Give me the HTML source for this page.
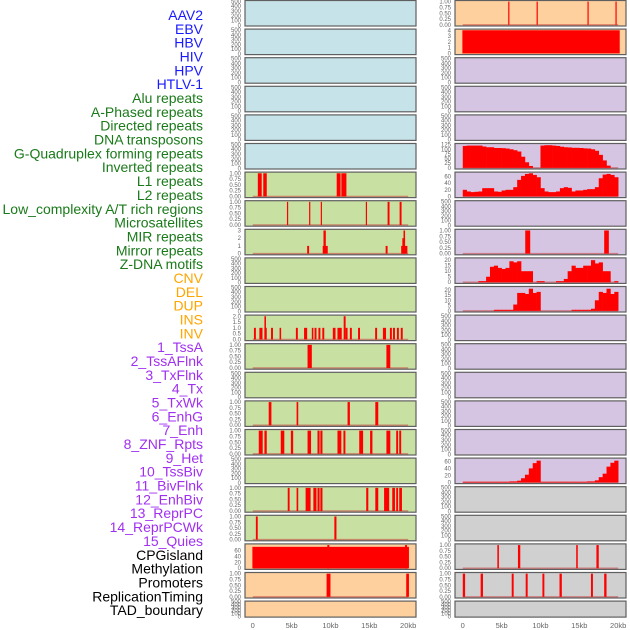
<!DOCTYPE html>
<html><head><meta charset="utf-8"><style>
body{margin:0;background:#fff;width:630px;height:630px;overflow:hidden}
svg{display:block}
</style></head><body>
<svg id="chart" width="630" height="630" xmlns="http://www.w3.org/2000/svg" font-family="Liberation Sans, sans-serif"></svg>
<script>
// ---- data ----
const trackLabels=["AAV2","EBV","HBV","HIV","HPV","HTLV-1","Alu repeats","A-Phased repeats","Directed repeats","DNA transposons","G-Quadruplex forming repeats","Inverted repeats","L1 repeats","L2 repeats","Low_complexity A/T rich regions","Microsatellites","MIR repeats","Mirror repeats","Z-DNA motifs","CNV","DEL","DUP","INS","INV","1_TssA","2_TssAFlnk","3_TxFlnk","4_Tx","5_TxWk","6_EnhG","7_Enh","8_ZNF_Rpts","9_Het","10_TssBiv","11_BivFlnk","12_EnhBiv","13_ReprPC","14_ReprPCWk","15_Quies","CPGisland","Methylation","Promoters","ReplicationTiming","TAD_boundary"];
const xTickLabels=["0","5kb","10kb","15kb","20kb"];
const xTickValues=[0,5,10,15,20];
// spike tracks: [startKb,endKb,value]
const aluSpikes=[[0.65,1.15,1],[1.35,1.8,1],[10.8,11.3,1],[11.4,12.05,1]];
const aPhasedSpikes=[[4.4,4.55,1],[7.25,7.4,1],[8.75,8.9,1],[14.55,14.7,1],[17.35,17.6,1],[18.9,19.15,1]];
const directedSpikes=[[7.0,7.25,1],[9.0,9.65,1],[9.1,9.4,3],[17.1,17.35,1],[19.1,19.9,1],[19.25,19.6,2],[19.4,19.6,3]];
const invertedSpikes=[[0.15,0.4,1],[0.85,1.25,1],[1.5,1.8,1],[1.5,1.7,2],[2.35,2.6,1],[3.45,3.65,1],[5.55,5.8,1],[6.6,7.0,1],[7.6,7.8,1],[7.95,8.2,1],[8.45,8.7,1],[8.95,9.2,1],[10.3,10.65,1],[10.9,11.45,1],[11.7,11.95,2],[11.95,12.2,1],[12.5,12.75,1],[13.55,13.8,1],[15.75,16.0,1],[16.75,17.15,1],[17.65,17.9,1],[18.05,18.3,1],[18.55,18.8,1],[19.05,19.3,1]];
const l1Spikes=[[7.05,7.6,1],[17.2,17.7,1]];
const lowComplexSpikes=[[2.05,2.4,1],[5.64,5.85,1],[12.2,12.5,1],[15.77,16.15,1]];
const microSpikes=[[0.77,1.28,1],[1.5,1.8,1],[3.6,4.06,1],[4.9,5.2,1],[7.05,7.5,1],[8.33,8.6,1],[8.7,8.97,1],[10.9,11.4,1],[11.67,11.92,1],[13.7,14.2,1],[15.1,15.4,1],[17.2,17.7,1],[18.46,18.7,1],[18.85,19.1,1]];
const mirrorSpikes=[[4.5,4.74,1],[5.64,5.85,1],[6.8,7.44,1],[7.8,8.2,1],[8.33,8.6,1],[8.7,8.97,1],[14.6,14.87,1],[15.77,16.15,1],[16.9,17.56,1],[17.95,18.3,1],[18.46,18.7,1],[18.85,19.2,1]];
const zdnaSpikes=[[0.4,0.64,1],[10.5,10.77,1]];
const cnvSpikes=[[-0.05,20.1,73],[9.6,9.85,79],[19.6,19.85,79]];
const delSpikes=[[9.5,10.0,1],[19.75,20.1,1]];
const insSpikes=[[5.85,6.0,1],[9.5,9.65,1],[16.05,16.2,1],[19.65,19.8,1]];
const invSpikes=[[-0.05,20.2,4]];
const reprPCWkSpikes=[[8.04,8.68,1],[18.2,18.8,1]];
const promoterSpikes=[[4.45,4.65,1],[7.1,7.4,1],[14.6,14.8,1],[17.2,17.5,1]];
const replicationSpikes=[[0.0,0.3,1],[2.3,2.6,1],[6.3,6.55,1],[8.1,8.35,1],[10.25,10.5,1],[12.45,12.75,1],[16.5,16.75,1],[18.2,18.5,1]];
// density tracks: 40 bins of 0.5kb
const txDensity=[118,120,120,120,120,115,111,111,107,107,106,104,100,95,88,60,30,10,0,0,120,122,122,120,118,114,111,110,108,108,107,105,104,100,92,70,40,12,0,0];
const txWkDensity=[20,15,13,14,15,25,25,25,15,14,18,20,20,28,50,62,68,70,65,58,25,15,13,13,15,25,28,26,15,18,18,20,22,22,28,55,66,68,65,58];
const enhDensity=[0,0,0,0,1,1,5,14,15,13,12,13,19,18,19,10,10,10,0,1,1,0,0,0,1,1,3,10,15,13,13,15,15,20,17,18,10,10,0,1];
const znfDensity=[0,0,0,0,0,0,0,0,1,1,1,1,1,6,17,17,16,21,17,18,0,0,0,0,0,0,0,0,1,1,1,1,1,2,10,18,17,21,16,18];
const hetDensity=[2,2,2,2,2,2,2,2,2,2,2,2,3,3,5,12,22,40,55,62,2,2,2,2,2,2,2,2,2,2,2,2,3,3,6,15,25,45,56,62];
// ---- panel specs ----
const BLUE="#c6e3ea",GREEN="#c8e0a2",ORANGE="#fdd09e",PURPLE="#d5c5e2",GRAY="#d0d0d0";
const E={t:"empty"};
const S01=[0,0.25,0.5,0.75,1],S01L=["0.00","0.25","0.50","0.75","1.00"];
const leftPanels=[
 [BLUE,E],[BLUE,E],[BLUE,E],[BLUE,E],[BLUE,E],[BLUE,E],
 [GREEN,{t:"spike",d:aluSpikes,max:1,ticks:S01,tl:S01L}],
 [GREEN,{t:"spike",d:aPhasedSpikes,max:1,ticks:S01,tl:S01L}],
 [GREEN,{t:"spike",d:directedSpikes,max:3,ticks:[0,1,2,3],tl:["0","1","2","3"]}],
 [GREEN,E],[GREEN,E],
 [GREEN,{t:"spike",d:invertedSpikes,max:2,ticks:[0,0.5,1,1.5,2],tl:["0.0","0.5","1.0","1.5","2.0"]}],
 [GREEN,{t:"spike",d:l1Spikes,max:1,ticks:S01,tl:S01L}],
 [GREEN,E],
 [GREEN,{t:"spike",d:lowComplexSpikes,max:1,ticks:S01,tl:S01L}],
 [GREEN,{t:"spike",d:microSpikes,max:1,ticks:S01,tl:S01L}],
 [GREEN,E],
 [GREEN,{t:"spike",d:mirrorSpikes,max:1,ticks:S01,tl:S01L}],
 [GREEN,{t:"spike",d:zdnaSpikes,max:1,ticks:S01,tl:S01L}],
 [ORANGE,{t:"spike",d:cnvSpikes,max:79,ticks:[0,20,40,60],tl:["0","20","40","60"]}],
 [ORANGE,{t:"spike",d:delSpikes,max:1,ticks:S01,tl:S01L}],
 [ORANGE,E]
];
const rightPanels=[
 [ORANGE,{t:"spike",d:insSpikes,max:1,ticks:S01,tl:S01L}],
 [ORANGE,{t:"spike",d:invSpikes,max:4,ticks:[0,1,2,3,4],tl:["0","1","2","3","4"],nobase:true}],
 [PURPLE,E],[PURPLE,E],[PURPLE,E],
 [PURPLE,{t:"dens",d:txDensity,max:125,ticks:[0,25,50,75,100,125],tl:["0","25","50","75","100","125"]}],
 [PURPLE,{t:"dens",d:txWkDensity,max:70,ticks:[0,20,40,60],tl:["0","20","40","60"]}],
 [PURPLE,E],
 [PURPLE,{t:"spike",d:reprPCWkSpikes,max:1,ticks:S01,tl:S01L}],
 [PURPLE,{t:"dens",d:enhDensity,max:21,ticks:[0,5,10,15,20],tl:["0","5","10","15","20"]}],
 [PURPLE,{t:"dens",d:znfDensity,max:22,ticks:[0,5,10,15,20],tl:["0","5","10","15","20"]}],
 [PURPLE,E],[PURPLE,E],[PURPLE,E],[PURPLE,E],[PURPLE,E],
 [PURPLE,{t:"dens",d:hetDensity,max:66,ticks:[0,20,40,60],tl:["0","20","40","60"]}],
 [GRAY,E],[GRAY,E],
 [GRAY,{t:"spike",d:promoterSpikes,max:1,ticks:S01,tl:S01L}],
 [GRAY,{t:"spike",d:replicationSpikes,max:1,ticks:S01,tl:S01L}],
 [GRAY,E]
];
// ---- drawing ----
const NS="http://www.w3.org/2000/svg";
const svg=document.getElementById("chart");
function mk(tag,attrs,parent){const e=document.createElementNS(NS,tag);for(const k in attrs)e.setAttribute(k,attrs[k]);(parent||svg).appendChild(e);return e;}
function labelColor(i){if(i<6)return"#1a1aff";if(i<19)return"#1a7a1a";if(i<24)return"#ffa500";if(i<39)return"#a030f0";return"#000";}
trackLabels.forEach((t,i)=>{
 const e=mk("text",{x:203,y:15+i*13.84+5,"text-anchor":"end","font-size":"14",fill:labelColor(i)});
 
 
 e.textContent=t;
});
function panelGeom(row){const top=0.5+row*28.6;const h=row===21?16:25.5;return{top,h};}
function drawPanel(px0,row,spec,name){
 const [bg,cfg]=spec;const {top,h}=panelGeom(row);const W=171;
 const g=mk("g",{});
 
 
 mk("rect",{x:px0,y:top,width:W,height:h,fill:bg},g);
 const xs=kb=>px0+(kb+1)*7.77;
 let lo,hi,ticks,tl;
 if(cfg.t==="empty"){lo=-15;hi=520;ticks=[0,100,200,300,400,500];tl=ticks.map(String);}
 else{lo=-0.05*cfg.max;hi=1.05*cfg.max;ticks=cfg.ticks;tl=cfg.tl;}
 const ys=v=>top+h-(v-lo)/(hi-lo)*h;
 if(cfg.t==="spike"){
  if(!cfg.nobase)mk("line",{x1:xs(0),x2:xs(20),y1:ys(0),y2:ys(0),stroke:"rgba(200,60,60,0.55)","stroke-width":1.5},g);
  cfg.d.forEach(s=>{
   const x1=xs(s[0]),x2=xs(s[1]);
   const r=mk("rect",{x:x1,y:ys(s[2]),width:Math.max(1.2,x2-x1),height:ys(0)-ys(s[2]),fill:"#ff0000"},g);
   
   
  });
 } else if(cfg.t==="dens"){
  mk("line",{x1:xs(0),x2:xs(20),y1:ys(0),y2:ys(0),stroke:"rgba(200,60,60,0.55)","stroke-width":1.5},g);
  cfg.d.forEach((v,i)=>{
   if(v<=0)return;
   const x1=xs(i*0.5),x2=xs((i+1)*0.5);
   const r=mk("rect",{x:x1,y:ys(v),width:x2-x1+0.3,height:ys(0)-ys(v),fill:"#ff0000"},g);
   
   
  });
 }
 mk("rect",{x:px0,y:top,width:W,height:h,fill:"none",stroke:"#5f5f5f","stroke-width":1.2},g);
 ticks.forEach((t,i)=>{
  const e=mk("text",{x:px0-4,y:ys(t)+2,"text-anchor":"end","font-size":"6",fill:"#666"},g);
  
  
  e.textContent=tl[i];
 });
}
leftPanels.forEach((p,r)=>drawPanel(245,r,p,"track-panel-"+trackLabels[r].toLowerCase().replace(/[^a-z0-9]+/g,"-")));
rightPanels.forEach((p,r)=>drawPanel(455,r,p,"track-panel-"+trackLabels[r+22].toLowerCase().replace(/[^a-z0-9]+/g,"-")));
[245,455].forEach(px0=>{
 xTickValues.forEach((v,i)=>{
  const e=mk("text",{x:px0+(v+1)*7.77,y:628,"text-anchor":"middle","font-size":"7.5",fill:"#666"});
  
  
  e.textContent=xTickLabels[i];
 });
});
</script>
</body></html>
